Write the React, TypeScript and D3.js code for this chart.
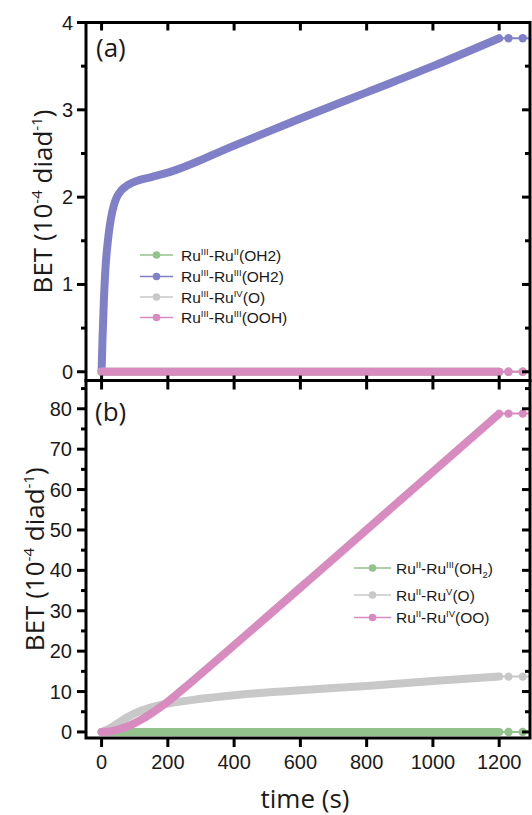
import React from "react";
import * as d3 from "d3";

// ---------- data ----------
const xTicks = [0, 200, 400, 600, 800, 1000, 1200];
const yTicksA = [0, 1, 2, 3, 4];
const yMinorA = [0.5, 1.5, 2.5, 3.5];
const yTicksB = [0, 10, 20, 30, 40, 50, 60, 70, 80];
const yMinorB = [5, 15, 25, 35, 45, 55, 65, 75, 85];

// sparse sample times after the dense part
const tailTimes = [1228, 1271, 1314];

// Panel (a)
const timeFlat = [0, 1200];
const flatZero = [0, 0];
const timeBlueA = [0, 3, 7, 12, 19, 28, 38, 46, 60, 80, 110, 150, 200, 400, 600, 800, 1000, 1200];
const blueA = [0, 0.4, 0.82, 1.2, 1.5, 1.75, 1.92, 2.0, 2.08, 2.14, 2.19, 2.23, 2.28, 2.59, 2.9, 3.2, 3.5, 3.82];

// Panel (b)
const timeGrayB = [0, 25, 50, 75, 100, 150, 200, 300, 400, 600, 800, 1000, 1200];
const grayB = [0, 0.9, 2.2, 3.5, 4.6, 6.1, 7.0, 8.2, 9.1, 10.3, 11.4, 12.6, 13.7];
const timePinkB = [0, 25, 50, 75, 100, 125, 150, 175, 200, 225, 250, 300, 700, 1200];
const pinkB = [0, 0.15, 0.6, 1.3, 2.2, 3.3, 4.6, 6.0, 7.5, 9.2, 10.9, 14.4, 42.9, 78.8];

const GREEN = "#93c28d";
const BLUE = "#7f80c8";
const GRAY = "#c8c8c8";
const PINK = "#d88bbf";

type Part = [string, string];
const legendA: { color: string; parts: Part[] }[] = [
  { color: GREEN, parts: [["Ru", ""], ["III", "sup"], ["-Ru", ""], ["II", "sup"], ["(OH2)", ""]] },
  { color: BLUE, parts: [["Ru", ""], ["III", "sup"], ["-Ru", ""], ["III", "sup"], ["(OH2)", ""]] },
  { color: GRAY, parts: [["Ru", ""], ["III", "sup"], ["-Ru", ""], ["IV", "sup"], ["(O)", ""]] },
  { color: PINK, parts: [["Ru", ""], ["III", "sup"], ["-Ru", ""], ["III", "sup"], ["(OOH)", ""]] },
];
const legendB: { color: string; parts: Part[] }[] = [
  { color: GREEN, parts: [["Ru", ""], ["II", "sup"], ["-Ru", ""], ["III", "sup"], ["(OH", ""], ["2", "sub"], [")", ""]] },
  { color: GRAY, parts: [["Ru", ""], ["II", "sup"], ["-Ru", ""], ["V", "sup"], ["(O)", ""]] },
  { color: PINK, parts: [["Ru", ""], ["II", "sup"], ["-Ru", ""], ["IV", "sup"], ["(OO)", ""]] },
];

// ---------- layout ----------
const W = 532;
const H = 815;
const L = 86;
const R = 530;
const aTop = 22.5;
const aBot = 380.5;
const bTop = 380.5;
const bBot = 738;

const x = d3.scaleLinear().domain([-47, 1293]).range([L, R]);
const yA = d3.scaleLinear().domain([-0.1, 4]).range([aBot, aTop]);
const yB = d3.scaleLinear().domain([-1.5, 87]).range([bBot, bTop]);

const TICKFONT = "'Liberation Sans', Arial, sans-serif";
const TITLEFONT = "'Open Sans', 'DejaVu Sans', sans-serif";

function Series({ times, vals, y, color }: { times: number[]; vals: number[]; y: d3.ScaleLinear<number, number>; color: string }) {
  const dense = d3
    .line<number>()
    .x((_, i) => x(times[i]))
    .y((v) => y(v))
    .curve(d3.curveMonotoneX)(vals) as string;
  const last = vals[vals.length - 1];
  const tailPts: [number, number][] = [[times[times.length - 1], last], ...tailTimes.map((t) => [t, last] as [number, number])];
  const tail = d3
    .line<[number, number]>()
    .x((d) => x(d[0]))
    .y((d) => y(d[1]))(tailPts) as string;
  return (
    <g>
      <path d={tail} fill="none" stroke={color} strokeWidth={2} />
      <path d={dense} fill="none" stroke={color} strokeWidth={8} strokeLinecap="round" strokeLinejoin="round" />
      {tailTimes.map((t) => (
        <circle key={t} cx={x(t)} cy={y(last)} r={4.2} fill={color} />
      ))}
    </g>
  );
}

function LegendText({ parts, xPos, yPos }: { parts: Part[]; xPos: number; yPos: number }) {
  const out: React.ReactNode[] = [];
  let shift = 0;
  parts.forEach((p, i) => {
    const [txt, kind] = p;
    let target = 0;
    let fs = 15.5;
    if (kind === "sup") {
      target = -6;
      fs = 9.5;
    } else if (kind === "sub") {
      target = 4;
      fs = 9.5;
    }
    const dy = target - shift;
    shift = target;
    out.push(
      <tspan key={i} dy={dy} fontSize={fs}>
        {txt}
      </tspan>
    );
  });
  return (
    <text x={xPos} y={yPos} fontFamily={TICKFONT} fontSize={15.5} fill="#1a1a1a">
      {out}
    </text>
  );
}

function Legend({ items, x1, x2, xText, ys }: { items: { color: string; parts: Part[] }[]; x1: number; x2: number; xText: number; ys: number[] }) {
  return (
    <g>
      {items.map((it, i) => (
        <g key={i}>
          <line x1={x1} x2={x2} y1={ys[i]} y2={ys[i]} stroke={it.color} strokeWidth={1.6} />
          <circle cx={(x1 + x2) / 2} cy={ys[i]} r={3.8} fill={it.color} />
          <LegendText parts={it.parts} xPos={xText} yPos={ys[i] + 5.5} />
        </g>
      ))}
    </g>
  );
}

function YTitle({ cx, cy }: { cx: number; cy: number }) {
  return (
    <text
      transform={`translate(${cx},${cy}) rotate(-90)`}
      textAnchor="middle"
      fontFamily={TITLEFONT}
      fontSize={26}
      fill="#1a1a1a"
    >
      BET (10
      <tspan dy={-10} fontSize={15}>-4</tspan>
      <tspan dy={10}> diad</tspan>
      <tspan dy={-10} fontSize={15}>-1</tspan>
      <tspan dy={10}>)</tspan>
    </text>
  );
}

export default function App() {
  return (
    <svg width={W} height={H} style={{ position: "absolute", left: 0, top: 0, background: "#fff" }}>
      <defs>
        <clipPath id="clipA">
          <rect x={L} y={aTop} width={R - L} height={aBot - aTop} />
        </clipPath>
        <clipPath id="clipB">
          <rect x={L} y={bTop} width={R - L} height={bBot - bTop} />
        </clipPath>
      </defs>
      <rect x={0} y={0} width={W} height={H} fill="#fff" />

      {/* Panel (a) data */}
      <g clipPath="url(#clipA)">
        <Series times={timeFlat} vals={flatZero} y={yA} color={GREEN} />
        <Series times={timeBlueA} vals={blueA} y={yA} color={BLUE} />
        <Series times={timeFlat} vals={flatZero} y={yA} color={GRAY} />
        <Series times={timeFlat} vals={flatZero} y={yA} color={PINK} />
      </g>

      {/* Panel (b) data */}
      <g clipPath="url(#clipB)">
        <Series times={timeFlat} vals={flatZero} y={yB} color={GREEN} />
        <Series times={timeGrayB} vals={grayB} y={yB} color={GRAY} />
        <Series times={timePinkB} vals={pinkB} y={yB} color={PINK} />
      </g>

      {/* Frames */}
      <rect x={L} y={aTop} width={R - L} height={aBot - aTop} fill="none" stroke="#000" strokeWidth={3} />
      <rect x={L} y={bTop} width={R - L} height={bBot - bTop} fill="none" stroke="#000" strokeWidth={3} />

      {/* X ticks */}
      {xTicks.map((t) => (
        <g key={"xt" + t} stroke="#000" strokeWidth={3}>
          <line x1={x(t)} x2={x(t)} y1={aTop} y2={aTop + 8} />
          <line x1={x(t)} x2={x(t)} y1={aBot - 5} y2={aBot + 9} />
          <line x1={x(t)} x2={x(t)} y1={bBot} y2={bBot + 9} />
        </g>
      ))}
      {xTicks.map((t) => (
        <text key={"xl" + t} x={x(t)} y={bBot + 31} textAnchor="middle" fontFamily={TICKFONT} fontSize={20} fill="#1a1a1a">
          {t}
        </text>
      ))}

      {/* Y ticks A */}
      {yTicksA.map((v) => (
        <g key={"ya" + v}>
          <line x1={L - 9} x2={L} y1={yA(v)} y2={yA(v)} stroke="#000" strokeWidth={3} />
          <line x1={R} x2={R - 8} y1={yA(v)} y2={yA(v)} stroke="#000" strokeWidth={3} />
          <text x={L - 13} y={yA(v) + 7} textAnchor="end" fontFamily={TICKFONT} fontSize={20} fill="#1a1a1a">
            {v}
          </text>
        </g>
      ))}
      {yMinorA.map((v) => (
        <g key={"yam" + v} stroke="#000" strokeWidth={3}>
          <line x1={L - 5} x2={L} y1={yA(v)} y2={yA(v)} />
          <line x1={R} x2={R - 5} y1={yA(v)} y2={yA(v)} />
        </g>
      ))}

      {/* Y ticks B */}
      {yTicksB.map((v) => (
        <g key={"yb" + v}>
          <line x1={L - 9} x2={L} y1={yB(v)} y2={yB(v)} stroke="#000" strokeWidth={3} />
          <line x1={R} x2={R - 8} y1={yB(v)} y2={yB(v)} stroke="#000" strokeWidth={3} />
          <text x={L - 14} y={yB(v) + 7} textAnchor="end" fontFamily={TICKFONT} fontSize={20} fill="#1a1a1a">
            {v}
          </text>
        </g>
      ))}
      {yMinorB.map((v) => (
        <g key={"ybm" + v} stroke="#000" strokeWidth={3}>
          <line x1={L - 5} x2={L} y1={yB(v)} y2={yB(v)} />
          <line x1={R} x2={R - 5} y1={yB(v)} y2={yB(v)} />
        </g>
      ))}

      {/* Panel labels */}
      <text x={96} y={57} fontFamily={TITLEFONT} fontSize={26} fill="#1a1a1a">(a)</text>
      <text x={95} y={421} fontFamily={TITLEFONT} fontSize={26} fill="#1a1a1a">(b)</text>

      {/* Axis titles */}
      <YTitle cx={52} cy={(aTop + aBot) / 2} />
      <YTitle cx={44} cy={(bTop + bBot) / 2} />
      <text x={305} y={808} textAnchor="middle" fontFamily={TITLEFONT} fontSize={26} fill="#1a1a1a">
        time (s)
      </text>

      {/* Legends */}
      <Legend items={legendA} x1={140} x2={173} xText={181} ys={[255, 276.5, 297, 317.5]} />
      <Legend items={legendB} x1={354} x2={391} xText={396} ys={[568, 595, 617.5]} />
    </svg>
  );
}
